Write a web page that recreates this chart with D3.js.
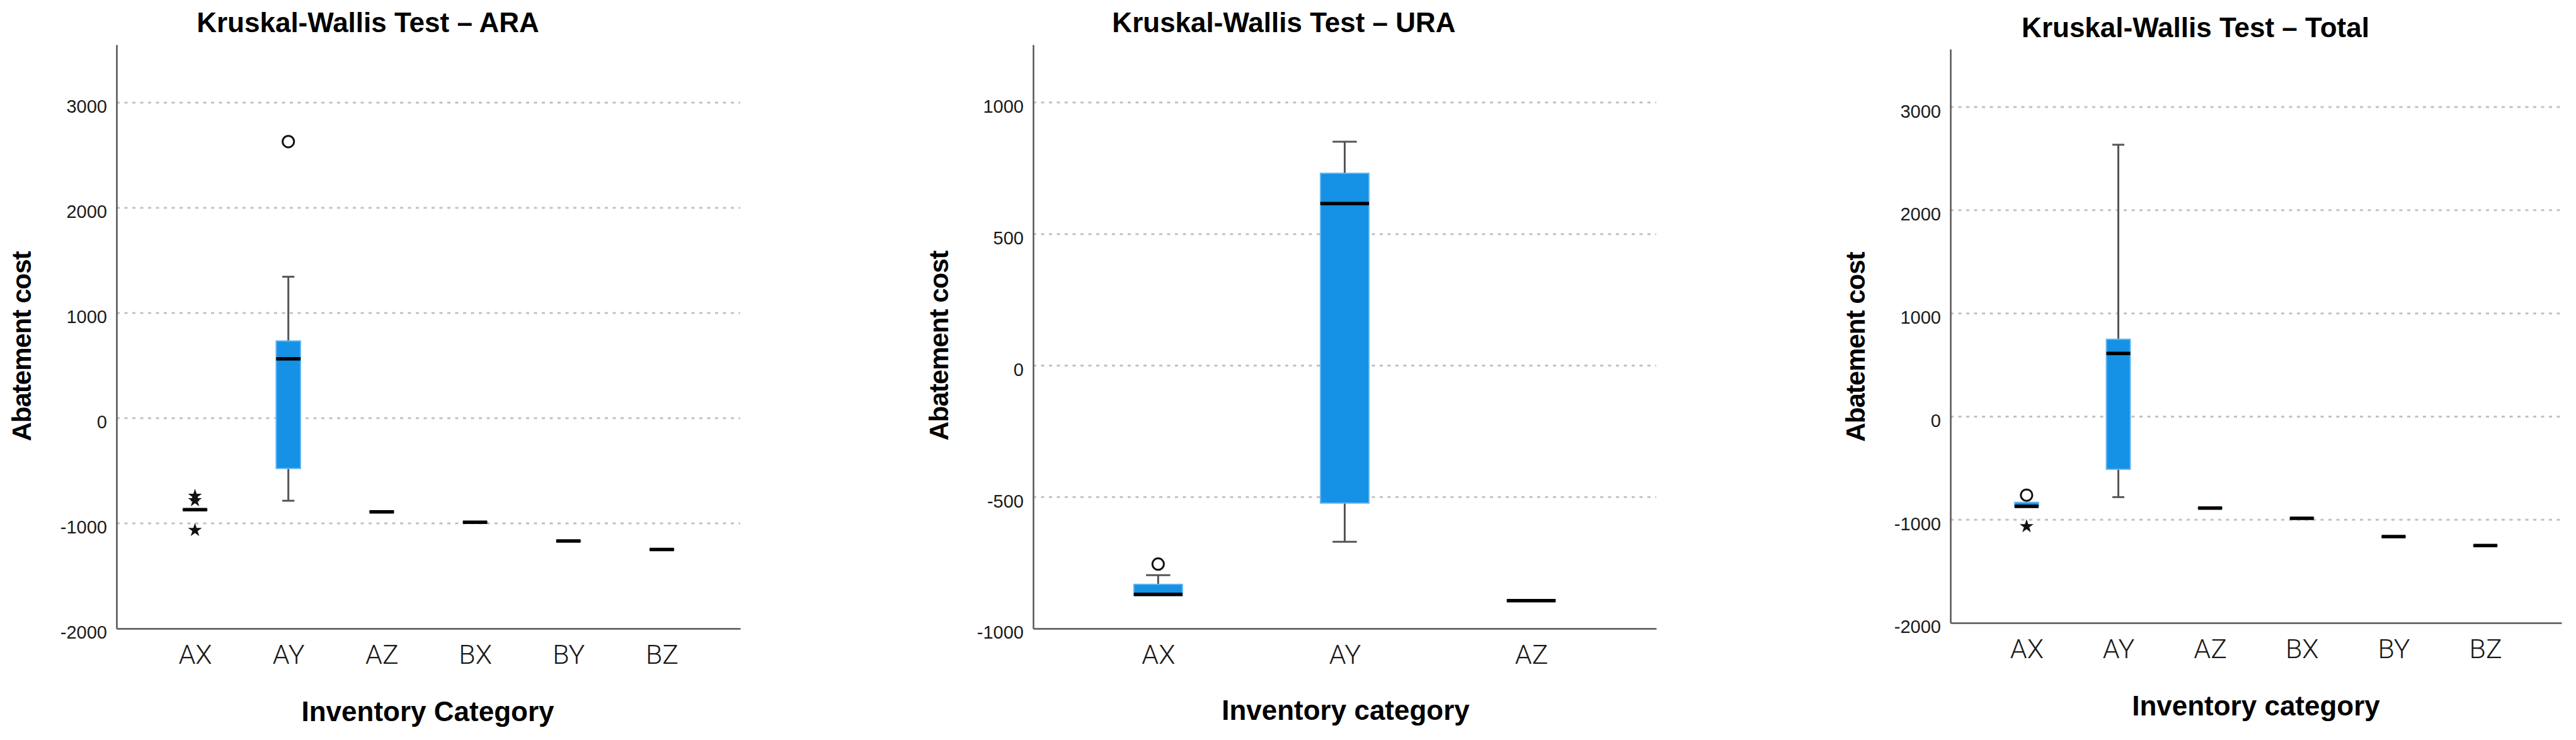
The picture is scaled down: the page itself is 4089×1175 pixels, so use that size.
<!DOCTYPE html>
<html>
<head>
<meta charset="utf-8">
<script src="https://cdn.jsdelivr.net/npm/d3@7"></script>
<style>
  body { margin: 0; background: #fff; }
  svg { display: block; }
</style>
</head>
<body>
<div id="chart"></div>
<script>
// Box plot values (quartiles, whisker ends, outliers)

// ARA
const araCategories = ["AX", "AY", "AZ", "BX", "BY", "BZ"];
const araQ1     = [-872, -478, -895, -992, -1170, -1251];
const araMedian = [-870,  565, -890, -990, -1168, -1249];
const araQ3     = [-868,  734, -885, -988, -1166, -1247];
const araLow    = [-872, -785, -895, -992, -1170, -1251];
const araHigh   = [-868, 1345, -885, -988, -1166, -1247];
const araOutliers = [["AX", -740, "star"], ["AX", -782, "star"], ["AX", -1065, "star"], ["AY", 2630, "circle"]];
const araTicks = [-2000, -1000, 0, 1000, 2000, 3000];

// URA
const uraCategories = ["AX", "AY", "AZ"];
const uraQ1     = [-875, -523, -897];
const uraMedian = [-870,  616, -894];
const uraQ3     = [-832,  731, -891];
const uraLow    = [-875, -670, -897];
const uraHigh   = [-797,  851, -891];
const uraOutliers = [["AX", -755, "circle"]];
const uraTicks = [-1000, -500, 0, 500, 1000];

// Total
const totCategories = ["AX", "AY", "AZ", "BX", "BY", "BZ"];
const totQ1     = [-875, -511, -892, -988, -1166, -1253];
const totMedian = [-870,  612, -887, -986, -1164, -1251];
const totQ3     = [-832,  749, -882, -984, -1162, -1249];
const totLow    = [-875, -781, -892, -988, -1166, -1253];
const totHigh   = [-832, 2635, -882, -984, -1162, -1249];
const totOutliers = [["AX", -762, "circle"], ["AX", -1065, "star"]];
const totTicks = [-2000, -1000, 0, 1000, 2000, 3000];

const panelTitles = ["Kruskal-Wallis Test \u2013 ARA", "Kruskal-Wallis Test \u2013 URA", "Kruskal-Wallis Test \u2013 Total"];
const xTitles = ["Inventory Category", "Inventory category", "Inventory category"];
const yTitle = "Abatement cost";

const width = 4089;
const height = 1175;

const svg = d3.select("#chart")
  .append("svg")
  .attr("width", width)
  .attr("height", height)
  .style("background", "#fff");

const boxFill = "#1591e6";
const boxEdge = "#62b6f0";
const axisColor = "#555";

// layout of each panel (pixel geometry only)
const panels = [
  { title: panelTitles[0], xTitle: xTitles[0], categories: araCategories, q1: araQ1, median: araMedian, q3: araQ3,
    low: araLow, high: araHigh, outliers: araOutliers, ticks: araTicks, domain: [-2000, 3551],
    left: 185, right: 1175, top: 71, bottom: 998, pad: 0.84,
    titleX: 584, titleY: 51, yTitleX: 34, yTitleY: 550, xTitleX: 679, xTitleY: 1145 },
  { title: panelTitles[1], xTitle: xTitles[1], categories: uraCategories, q1: uraQ1, median: uraMedian, q3: uraQ3,
    low: uraLow, high: uraHigh, outliers: uraOutliers, ticks: uraTicks, domain: [-1000, 1220],
    left: 1640, right: 2629, top: 71, bottom: 998, pad: 0.67,
    titleX: 2038, titleY: 51, yTitleX: 1490, yTitleY: 549, xTitleX: 2136, xTitleY: 1143 },
  { title: panelTitles[2], xTitle: xTitles[2], categories: totCategories, q1: totQ1, median: totMedian, q3: totQ3,
    low: totLow, high: totHigh, outliers: totOutliers, ticks: totTicks, domain: [-2000, 3562],
    left: 3096, right: 4066, top: 78, bottom: 989, pad: 0.83,
    titleX: 3485, titleY: 59, yTitleX: 2945, yTitleY: 551, xTitleX: 3581, xTitleY: 1136 }
];

function drawPanel(p) {
  const x = d3.scalePoint().domain(p.categories).range([p.left, p.right]).padding(p.pad);
  const y = d3.scaleLinear().domain(p.domain).range([p.bottom, p.top]);
  const g = svg.append("g");

  // dashed gridlines
  g.selectAll(".grid")
    .data(p.ticks.filter(d => d !== p.domain[0]))
    .enter()
    .append("line")
    .attr("x1", p.left)
    .attr("x2", p.right)
    .attr("y1", d => y(d))
    .attr("y2", d => y(d))
    .attr("stroke", "#c2c2c2")
    .attr("stroke-width", 3)
    .attr("stroke-dasharray", "5,7.5");

  // y axis
  const yAxis = g.append("g")
    .attr("transform", `translate(${p.left},0)`)
    .call(d3.axisLeft(y).tickValues(p.ticks).tickSize(0).tickSizeOuter(0).tickPadding(15)
      .tickFormat(d => String(d)));
  yAxis.select(".domain").attr("stroke", axisColor).attr("stroke-width", 2.5);
  yAxis.selectAll("text")
    .attr("dy", "0.55em")
    .style("font-family", "'Liberation Sans', Arial, sans-serif")
    .style("font-size", "29px")
    .style("fill", "#1a1a1a");

  // x axis
  const xAxis = g.append("g")
    .attr("transform", `translate(0,${p.bottom})`)
    .call(d3.axisBottom(x).tickSize(0).tickSizeOuter(0).tickPadding(25));
  xAxis.select(".domain").attr("stroke", axisColor).attr("stroke-width", 2.5);
  xAxis.selectAll("text")
    .style("font-family", "Roboto, 'Liberation Sans', sans-serif")
    .style("font-weight", "300")
    .style("font-size", "43px")
    .style("fill", "#1a1a1a");

  const rows = p.categories.map((c, i) => ({
    cat: c, q1: p.q1[i], median: p.median[i], q3: p.q3[i], low: p.low[i], high: p.high[i]
  }));
  const bw = x.step() * 0.26;

  // whiskers
  rows.forEach(function(d) {
    const cx = x(d.cat);
    if (d.high > d.q3) {
      g.append("line").attr("x1", cx).attr("x2", cx).attr("y1", y(d.q3)).attr("y2", y(d.high))
        .attr("stroke", axisColor).attr("stroke-width", 3);
      g.append("line").attr("x1", cx - bw / 4).attr("x2", cx + bw / 4).attr("y1", y(d.high)).attr("y2", y(d.high))
        .attr("stroke", axisColor).attr("stroke-width", 3);
    }
    if (d.low < d.q1) {
      g.append("line").attr("x1", cx).attr("x2", cx).attr("y1", y(d.q1)).attr("y2", y(d.low))
        .attr("stroke", axisColor).attr("stroke-width", 3);
      g.append("line").attr("x1", cx - bw / 4).attr("x2", cx + bw / 4).attr("y1", y(d.low)).attr("y2", y(d.low))
        .attr("stroke", axisColor).attr("stroke-width", 3);
    }
  });

  // boxes
  g.selectAll(".box")
    .data(rows)
    .enter()
    .append("rect")
    .attr("x", d => x(d.cat) - bw / 2)
    .attr("y", d => y(d.q3))
    .attr("width", bw)
    .attr("height", d => Math.max(0.5, y(d.q1) - y(d.q3)))
    .attr("fill", boxFill)
    .attr("stroke", boxEdge)
    .attr("stroke-width", 2);

  // medians
  g.selectAll(".median")
    .data(rows)
    .enter()
    .append("line")
    .attr("x1", d => x(d.cat) - bw / 2)
    .attr("x2", d => x(d.cat) + bw / 2)
    .attr("y1", d => y(d.median))
    .attr("y2", d => y(d.median))
    .attr("stroke", "#000")
    .attr("stroke-width", 5.5);

  // outliers: circle = outlier, star = extreme value
  g.selectAll(".outlier")
    .data(p.outliers)
    .enter()
    .append("path")
    .attr("transform", d => `translate(${x(d[0])},${y(d[1])})`)
    .attr("d", d => d[2] === "star" ? d3.symbol(d3.symbolStar, 150)() : d3.symbol(d3.symbolCircle, 260)())
    .attr("fill", d => d[2] === "star" ? "#111" : "none")
    .attr("stroke", "#111")
    .attr("stroke-width", d => d[2] === "star" ? 0 : 3);

  // titles
  g.append("text")
    .attr("x", p.titleX)
    .attr("y", p.titleY)
    .attr("text-anchor", "middle")
    .style("font-family", "'Liberation Sans', Arial, sans-serif")
    .style("font-weight", "bold")
    .style("font-size", "44px")
    .text(p.title);

  g.append("text")
    .attr("transform", `translate(${p.yTitleX},${p.yTitleY}) rotate(-90)`)
    .attr("dy", "0.36em")
    .attr("text-anchor", "middle")
    .style("font-family", "'Liberation Sans', Arial, sans-serif")
    .style("font-weight", "bold")
    .style("font-size", "42px")
    .style("letter-spacing", "-1px")
    .text(yTitle);

  g.append("text")
    .attr("x", p.xTitleX)
    .attr("y", p.xTitleY)
    .attr("text-anchor", "middle")
    .style("font-family", "'Liberation Sans', Arial, sans-serif")
    .style("font-weight", "bold")
    .style("font-size", "44px")
    .text(p.xTitle);
}

panels.forEach(drawPanel);
</script>
</body>
</html>
